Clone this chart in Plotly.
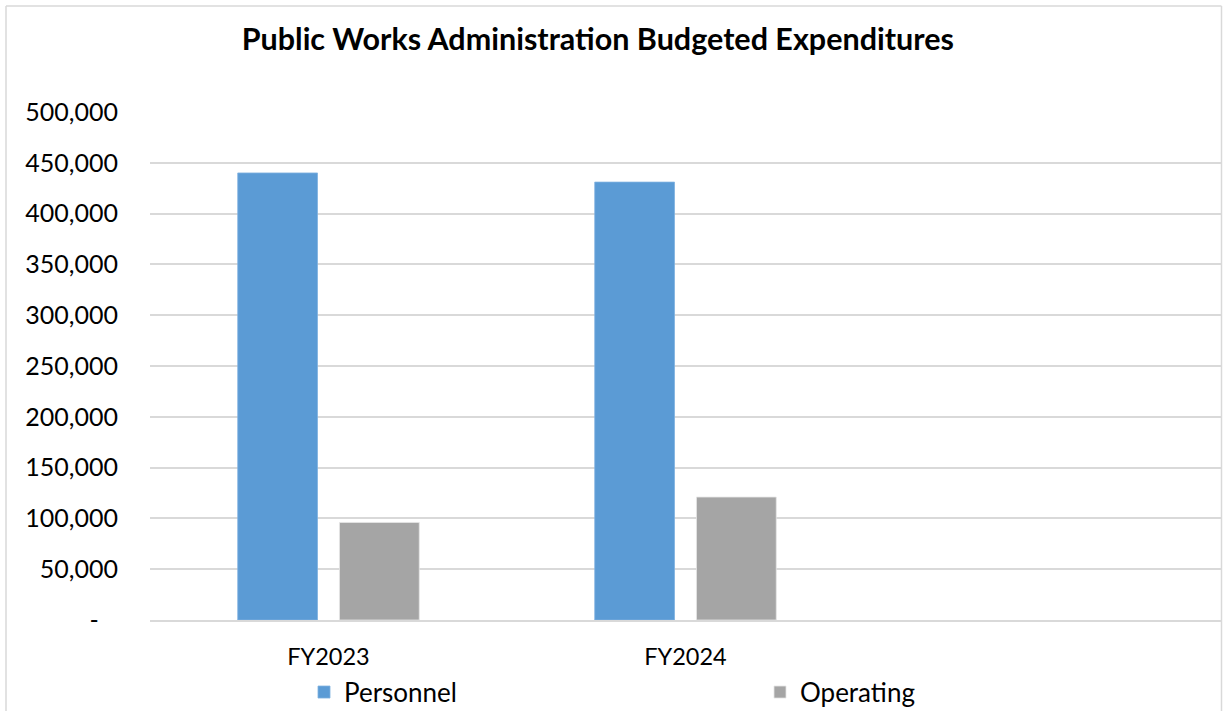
import plotly.graph_objects as go

categories = ["FY2023", "FY2024"]
personnel = [440000, 431000]
operating = [96000, 121000]
y_ticks = [0, 50000, 100000, 150000, 200000, 250000, 300000, 350000, 400000, 450000, 500000]
y_tick_labels = ["-\u00a0\u00a0\u00a0", "50,000", "100,000", "150,000", "200,000", "250,000", "300,000",
                 "350,000", "400,000", "450,000", "500,000"]

FONT = "Lato, 'Open Sans', sans-serif"

fig = go.Figure()
fig.add_trace(go.Bar(name="Personnel", x=categories, y=personnel,
                     marker=dict(color="#5B9BD5", line=dict(color="#7fb1e0", width=0.8))))
fig.add_trace(go.Bar(name="Operating", x=categories, y=operating,
                     marker=dict(color="#A5A5A5", line=dict(color="#e6e6e6", width=0.8))))

fig.update_layout(
    width=1225, height=711,
    margin=dict(l=150, r=4, t=112, b=91, autoexpand=False),
    paper_bgcolor="white", plot_bgcolor="white",
    barmode="group", bargap=0.43, bargroupgap=0.216,
    font=dict(family=FONT, size=24, color="#000000"),
    title=dict(text="<b>Public Works Administration Budgeted Expenditures</b>",
               x=0.488, xanchor="center", y=1 - 39 / 711, yanchor="middle",
               font=dict(family=FONT, size=30.5, color="#000000")),
    showlegend=True,
    legend=dict(orientation="h", x=(304 - 150) / 1071, xanchor="left", y=-0.142, yanchor="middle",
                entrywidth=411, entrywidthmode="pixels",
                font=dict(family=FONT, size=26, color="#000000"),
                bgcolor="rgba(0,0,0,0)"),
    xaxis=dict(type="category", range=[-0.5, 2.5], showgrid=False,
               showline=True, linecolor="#d9d9d9", linewidth=1.5,
               ticks="outside", ticklen=15, tickcolor="rgba(0,0,0,0)",
               tickfont=dict(family=FONT, size=23.5, color="#000000"), fixedrange=True),
    yaxis=dict(range=[0, 500000], tickvals=y_ticks, ticktext=y_tick_labels,
               showgrid=True, gridcolor="#d9d9d9", gridwidth=1.5,
               zeroline=False, showline=False, ticks="", ticklabelstandoff=31,
               tickfont=dict(family=FONT, size=25, color="#000000"), fixedrange=True),
    shapes=[
        dict(type="line", xref="paper", yref="paper",
             x0=(6 - 150) / 1071, x1=(1221.5 - 150) / 1071,
             y0=(620 - 6) / 508, y1=(620 - 6) / 508,
             line=dict(color="#d9d9d9", width=1.5)),
        dict(type="line", xref="paper", yref="paper",
             x0=(6 - 150) / 1071, x1=(6 - 150) / 1071,
             y0=(620 - 6) / 508, y1=(620 - 720) / 508,
             line=dict(color="#d9d9d9", width=1.5)),
        dict(type="line", xref="paper", yref="paper",
             x0=(1221.5 - 150) / 1071, x1=(1221.5 - 150) / 1071,
             y0=(620 - 6) / 508, y1=(620 - 720) / 508,
             line=dict(color="#d9d9d9", width=1.5)),
    ],
)

fig.write_html("out.html", config={"displayModeBar": False})
